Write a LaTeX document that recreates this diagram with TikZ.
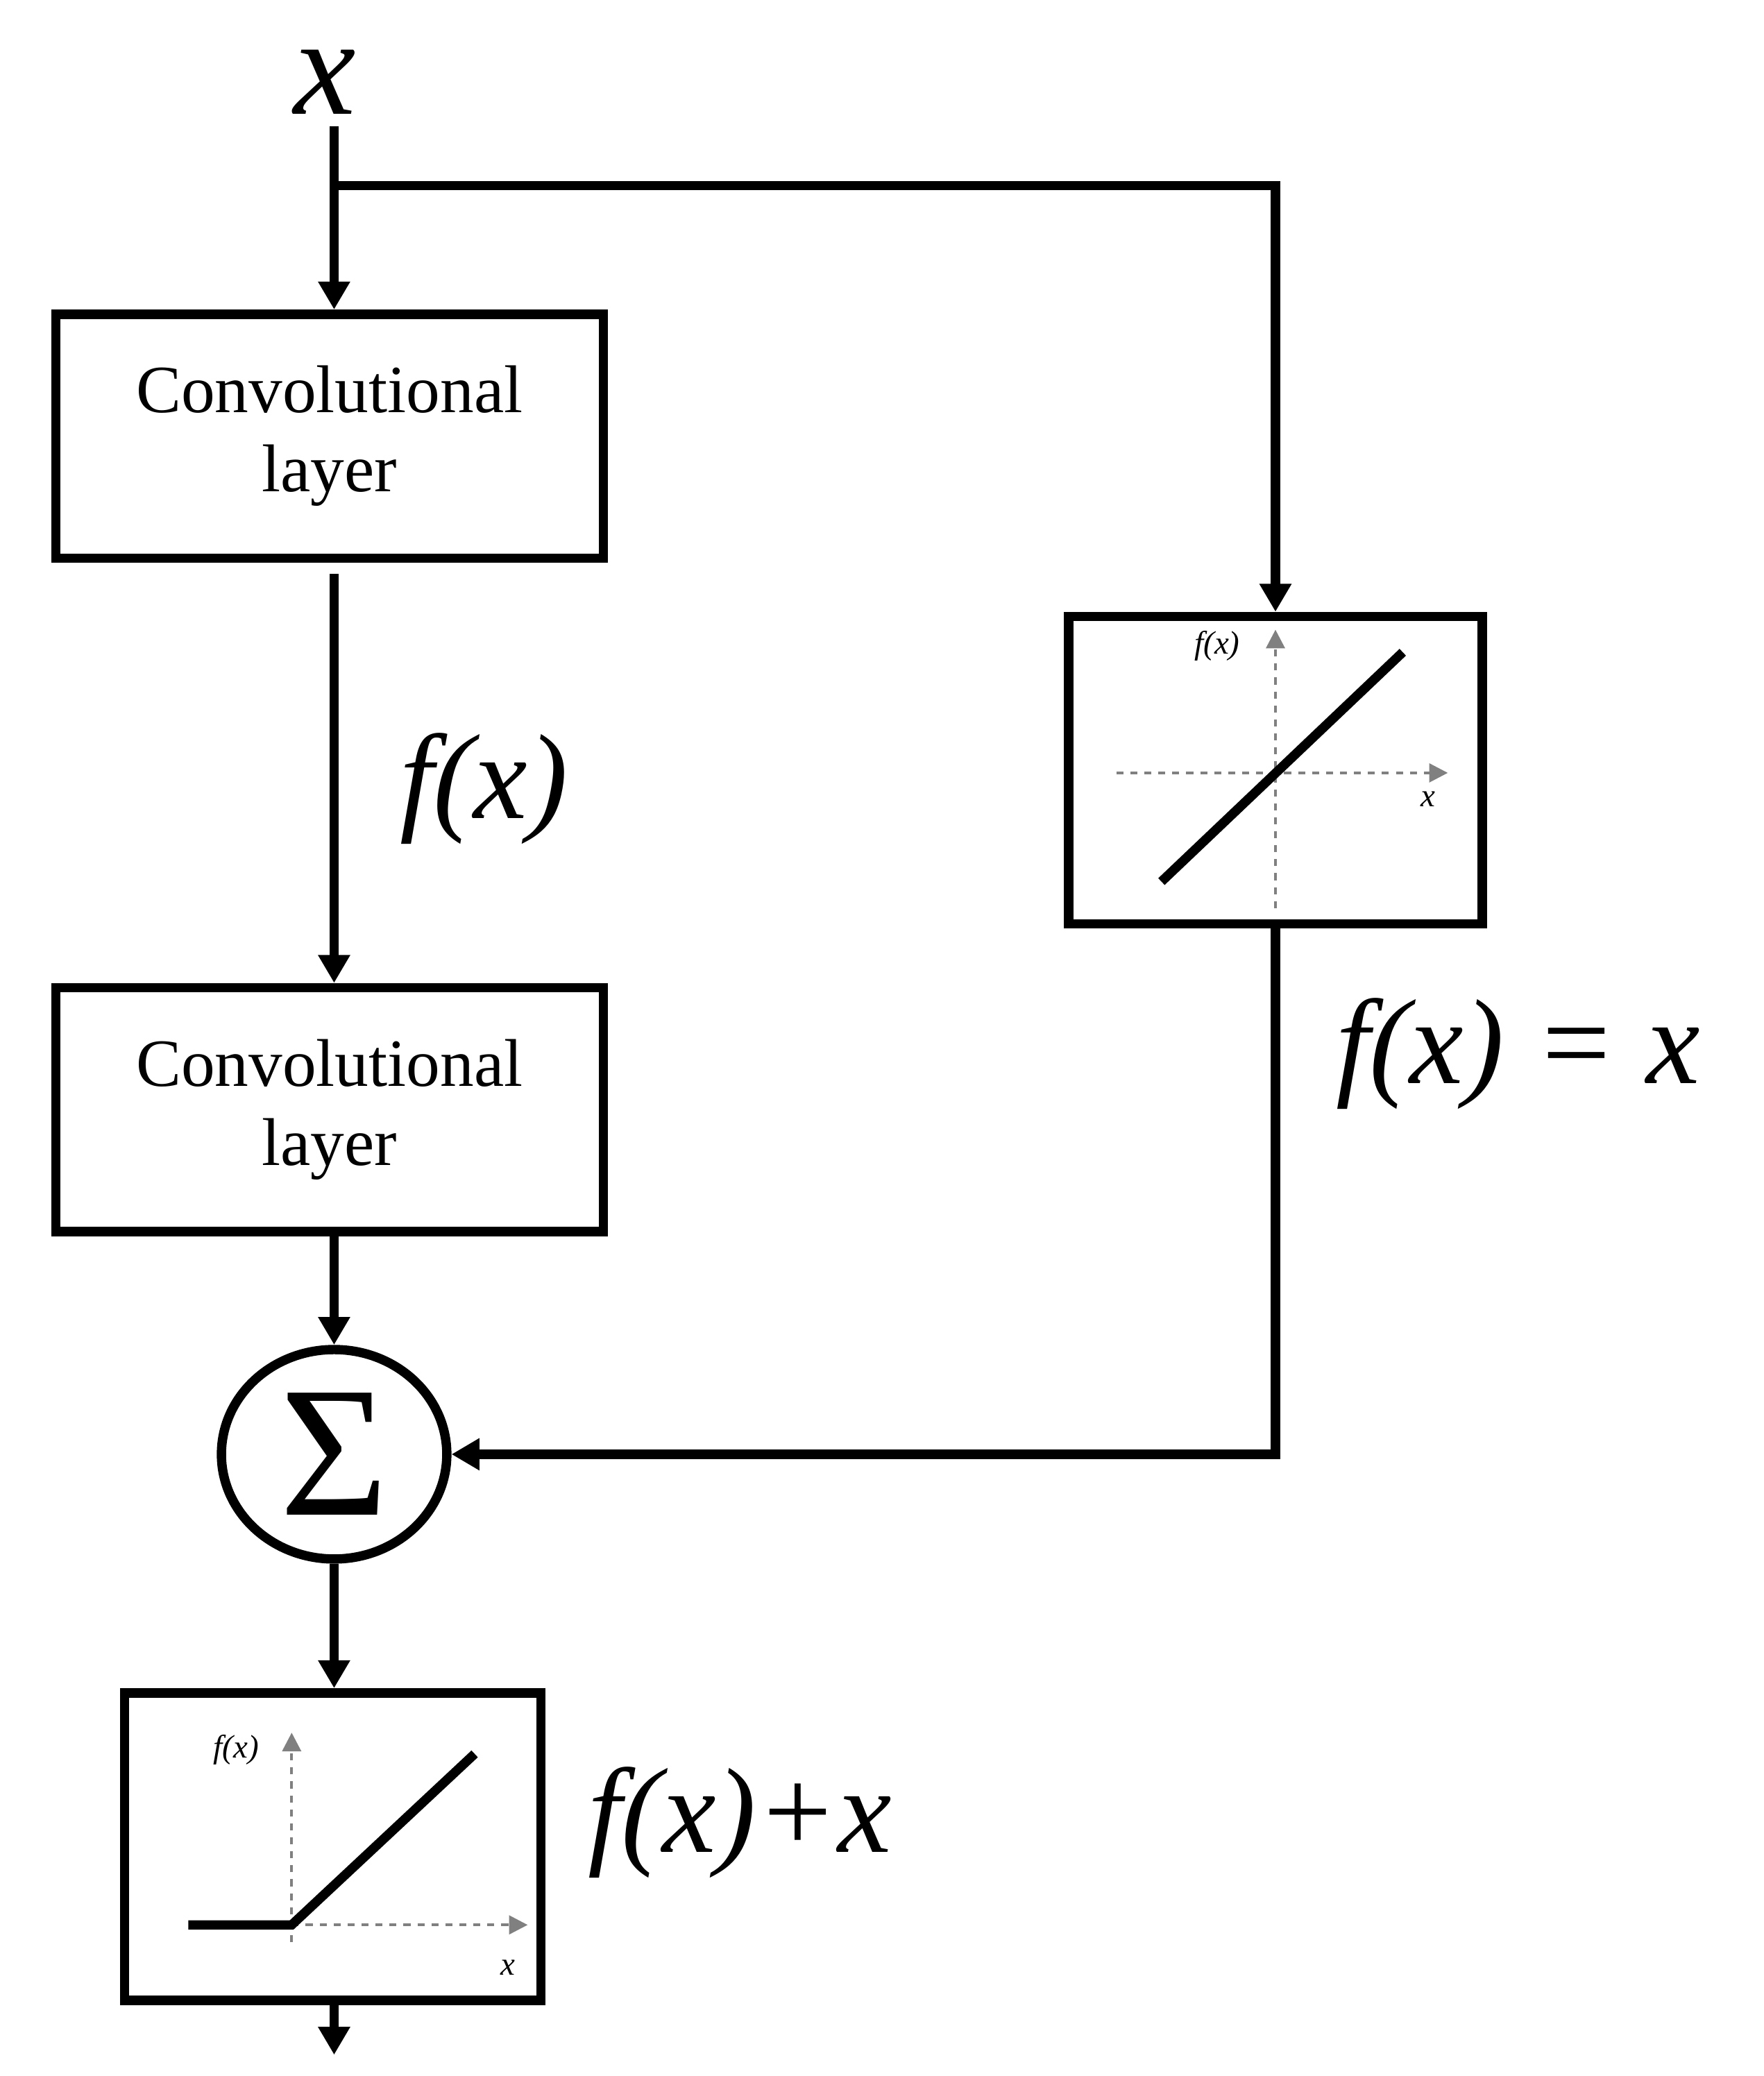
\documentclass[tikz,border=0pt]{standalone}
\usepackage{fontspec}
\setmainfont{Liberation Serif}
\usetikzlibrary{arrows.meta,shapes.geometric}
\begin{document}
\begin{tikzpicture}[x=0.02cm,y=-0.02cm,
  wire/.style={line width=4pt,-{Triangle[length=12pt,width=13pt]}},
  plain/.style={line width=4pt},
  box/.style={draw,line width=4pt,inner sep=0pt},
  ax/.style={gray,dashed,line width=1.2pt,-{Triangle[length=8pt,width=8pt]}},
  big/.style={font=\fontsize{52}{58}\selectfont\itshape},
  small/.style={font=\fontsize{14}{16}\selectfont\itshape}]
\useasboundingbox (0,0) rectangle (1330,1566);
\node[font=\fontsize{60}{66}\selectfont\itshape] (xin) at (245,62) {x};
\coordinate (top) at (252,95);
\coordinate (br) at (252,140);
\coordinate (brr) at (962,140);
\node[box,minimum width=413*0.02cm,minimum height=184*0.02cm,align=center,font=\fontsize{29}{34}\selectfont] (c1) at (248.5,329) {Convolutional\\layer};
\node[box,minimum width=413*0.02cm,minimum height=184*0.02cm,align=center,font=\fontsize{29}{34}\selectfont] (c2) at (248.5,837) {Convolutional\\layer};
\node[box,minimum width=312*0.02cm,minimum height=232*0.02cm] (b3) at (962,581) {};
\node[box,minimum width=314*0.02cm,minimum height=232*0.02cm] (b4) at (251,1393) {};
\node[draw,ellipse,line width=4pt,minimum width=170*0.02cm,minimum height=158*0.02cm,inner sep=0pt,font=\fontsize{80}{80}\selectfont] (s) at (252,1097) {Σ};
\coordinate (c1b) at (252,433);
\draw[plain] (top) -- (br);
\draw[wire] (br) -- (br |- c1.north);
\draw[wire] (br) -- (brr) -- (b3.north);
\draw[wire] (c1b) -- (c1b |- c2.north);
\draw[wire] (c1b |- c2.south) -- (s.north);
\draw[wire] (b3.south) |- (s.east);
\draw[wire] (s.south) -- (s.south |- b4.north);
\coordinate (end) at (252,1550);
\draw[wire] (end |- b4.south) -- (end);
\node[big] (l1) at (365,595) {f(x)};
\node[big] (l2) at (1145,795) {f(x) = x};
\node[big] (l3) at (558,1375) {f(x)+x};
% plot 1
\draw[ax] (842,583) -- (1092,583);
\draw[ax] (962,685) -- (962,475);
\draw[line width=4pt] (876,665) -- (1058,492);
\node[small] at (918,487) {f(x)};
\node[small] at (1077,603) {x};
% plot 2
\draw[ax] (220,1452) -- (398,1452);
\draw[ax] (220,1465) -- (220,1307);
\draw[line width=4pt] (142,1452) -- (220,1452) -- (358,1323);
\node[small] at (178,1320) {f(x)};
\node[small] at (383,1484) {x};
\end{tikzpicture}
\end{document}
